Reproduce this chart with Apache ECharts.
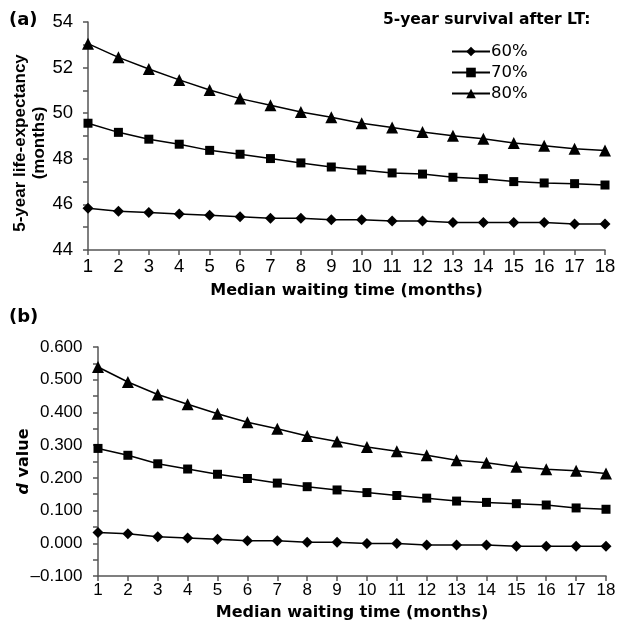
<!DOCTYPE html>
<html>
<head>
<meta charset="utf-8">
<script src="https://cdn.jsdelivr.net/npm/echarts@6/dist/echarts.min.js"></script>
<style>
  html, body { margin: 0; padding: 0; background: #fff; }
  #main { width: 625px; height: 622px; }
</style>
</head>
<body>
<div id="main"></div>
<script>
var months = [1, 2, 3, 4, 5, 6, 7, 8, 9, 10, 11, 12, 13, 14, 15, 16, 17, 18];
var seriesNames = ['60%', '70%', '80%'];

// (a) 5-year life-expectancy (months)
var life60 = [45.83, 45.70, 45.64, 45.58, 45.52, 45.46, 45.39, 45.39, 45.33, 45.33, 45.27, 45.27, 45.21, 45.21, 45.21, 45.21, 45.14, 45.14];
var life70 = [49.56, 49.16, 48.86, 48.64, 48.37, 48.20, 48.01, 47.82, 47.64, 47.51, 47.38, 47.33, 47.19, 47.13, 47.00, 46.94, 46.91, 46.85];
var life80 = [53.05, 52.45, 51.94, 51.46, 51.02, 50.64, 50.35, 50.05, 49.82, 49.56, 49.37, 49.18, 49.01, 48.88, 48.69, 48.57, 48.44, 48.36];

// (b) d value
var d60 = [0.033, 0.029, 0.020, 0.016, 0.012, 0.008, 0.008, 0.003, 0.003, -0.001, -0.001, -0.005, -0.005, -0.005, -0.009, -0.009, -0.009, -0.009];
var d70 = [0.290, 0.269, 0.243, 0.227, 0.211, 0.198, 0.184, 0.173, 0.163, 0.155, 0.146, 0.138, 0.129, 0.125, 0.121, 0.117, 0.108, 0.104];
var d80 = [0.539, 0.493, 0.455, 0.425, 0.396, 0.370, 0.350, 0.328, 0.311, 0.294, 0.281, 0.269, 0.254, 0.246, 0.234, 0.226, 0.222, 0.213];

var symbols = ['diamond', 'rect', 'triangle'];
var symbolSizes = [11, 9, 12];

function pairs(vals) {
    return vals.map(function (v, i) { return [months[i], v]; });
}

function makeSeries(name, vals, idx, axisIdx) {
    return {
        name: name,
        type: 'line',
        xAxisIndex: axisIdx,
        yAxisIndex: axisIdx,
        data: pairs(vals),
        symbol: symbols[idx],
        symbolSize: symbolSizes[idx],
        showAllSymbol: true,
        lineStyle: { color: '#000', width: 1.5 },
        itemStyle: { color: '#000' },
        animation: false
    };
}

var font = 'Liberation Sans, Arial, sans-serif';
var wide = 'DejaVu Sans, sans-serif';
var axisColor = '#555';

function xAxisCfg(gridIdx, labelSize, labelMargin, gap) {
    return {
        gridIndex: gridIdx,
        type: 'value',
        min: 1,
        max: 18,
        interval: 1,
        name: 'Median waiting time (months)',
        nameLocation: 'middle',
        nameGap: gap,
        nameTextStyle: { fontFamily: wide, fontSize: 16, fontWeight: 'bold', color: '#000' },
        axisLine: { show: true, onZero: false, lineStyle: { color: axisColor, width: 1.5 } },
        axisTick: { show: true, length: 5, lineStyle: { color: axisColor, width: 1.5 } },
        axisLabel: { fontFamily: font, fontSize: labelSize, color: '#000', margin: labelMargin },
        splitLine: { show: false }
    };
}

var myChart = echarts.init(document.getElementById('main'));
var option = {
    backgroundColor: '#fff',
    textStyle: { fontFamily: font },
    graphic: [
        { type: 'text', left: 9, top: 11, style: { text: '(a)', font: 'bold 18px ' + wide, fill: '#000' } },
        { type: 'text', left: 9, top: 308, style: { text: '(b)', font: 'bold 18px ' + wide, fill: '#000' } },
        { type: 'text', left: 383, top: 12, style: { text: '5-year survival after LT:', font: 'bold 15.5px ' + wide, fill: '#000' } }
    ],
    legend: {
        orient: 'vertical',
        left: 446,
        top: 38,
        itemWidth: 38,
        itemHeight: 12,
        itemGap: 4,
        data: seriesNames,
        textStyle: { fontFamily: wide, fontSize: 16.5, color: '#000', padding: [0, 0, 0, -4] }
    },
    grid: [
        { left: 88, right: 20, top: 22, bottom: 372, containLabel: false, outerBoundsMode: 'none' },
        { left: 98, right: 19, top: 347, bottom: 46, containLabel: false, outerBoundsMode: 'none' }
    ],
    xAxis: [xAxisCfg(0, 18.5, 7, 33), xAxisCfg(1, 17, 6, 29)],
    yAxis: [{
        gridIndex: 0,
        type: 'value',
        min: 44,
        max: 54,
        interval: 2,
        name: '5-year life-expectancy\n(months)',
        nameLocation: 'middle',
        nameGap: 39,
        nameMoveOverlap: false,
        nameTextStyle: { fontFamily: font, fontSize: 17, fontWeight: 'bold', color: '#000', lineHeight: 19, padding: [0, 14, 0, 0] },
        axisLine: { show: true, onZero: false, lineStyle: { color: axisColor, width: 1.5 } },
        axisTick: { show: true, length: 5, lineStyle: { color: axisColor, width: 1.5 } },
        minorTick: { show: true, splitNumber: 2, length: 5, lineStyle: { color: axisColor, width: 1.5 } },
        axisLabel: { fontFamily: font, fontSize: 18.5, color: '#000', margin: 15 },
        splitLine: { show: false }
    }, {
        gridIndex: 1,
        type: 'value',
        min: -0.1,
        max: 0.6,
        interval: 0.1,
        name: '{i|d} value',
        nameLocation: 'middle',
        nameGap: 66,
        nameMoveOverlap: false,
        nameTextStyle: {
            fontFamily: wide, fontSize: 16, fontWeight: 'bold', color: '#000',
            rich: { i: { fontFamily: wide, fontSize: 16, fontWeight: 'bold', fontStyle: 'italic', color: '#000' } }
        },
        axisLine: { show: true, onZero: false, lineStyle: { color: axisColor, width: 1.5 } },
        axisTick: { show: true, length: 5, lineStyle: { color: axisColor, width: 1.5 } },
        minorTick: { show: true, splitNumber: 2, length: 5, lineStyle: { color: axisColor, width: 1.5 } },
        axisLabel: {
            fontFamily: font, fontSize: 17, color: '#000', margin: 15.5,
            formatter: function (v) { return v.toFixed(3).replace('-', '\u2013'); }
        },
        splitLine: { show: false }
    }],
    series: [
        makeSeries('60%', life60, 0, 0),
        makeSeries('70%', life70, 1, 0),
        makeSeries('80%', life80, 2, 0),
        makeSeries('60%', d60, 0, 1),
        makeSeries('70%', d70, 1, 1),
        makeSeries('80%', d80, 2, 1)
    ]
};
myChart.setOption(option);
</script>
</body>
</html>
